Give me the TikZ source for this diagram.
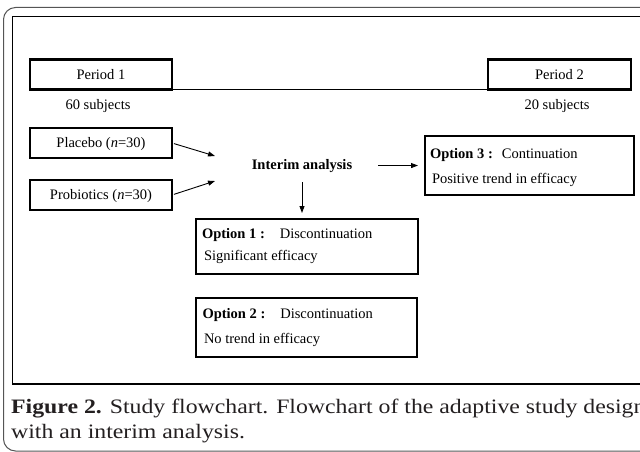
\documentclass[tikz,border=0pt]{standalone}
\usepackage{fontspec}
\setmainfont{Liberation Serif}
\newfontfamily\capfont[FakeStretch=1.16]{Liberation Serif}
\usetikzlibrary{arrows.meta}
\definecolor{captext}{HTML}{231F20}
\definecolor{framegray}{HTML}{555555}
\begin{document}
\begin{tikzpicture}[x=1pt,y=-1pt,
  font=\fontsize{14.5}{17}\selectfont,
  box/.style={draw, line width=2.6pt, inner sep=0pt, outer sep=0pt,
    minimum height=30pt, text height=9.5pt, text depth=0pt},
  optbox/.style={draw, line width=2.6pt, inner sep=0pt, outer sep=0pt},
  lbl/.style={inner sep=0pt, outer sep=0pt, anchor=base},
  arr/.style={line width=0.9pt, -{Triangle[length=7pt,width=5pt]}},
  capnode/.style={inner sep=0pt, anchor=base west, text=captext,
    font=\capfont\fontsize{20.5}{24}\selectfont}]
\useasboundingbox (0,0) rectangle (640,452);
\clip (0,0) rectangle (640,452);
% frames
\draw[framegray, line width=1pt, rounded corners=12pt] (3.5,7.5) rectangle (700,451);
\draw[line width=1.8pt] (12.5,16.5) rectangle (700,384);
% period boxes
\node[box, minimum width=142pt] (p1) at (101,74.75) {Period 1};
\node[box, minimum width=143pt] (p2) at (559.5,74.75) {Period 2};
\draw[line width=1pt] (p1.south east) -- (p2.south west);
\node[lbl] (s1) at (98,110) {60 subjects};
\node[lbl] (s2) at (557,110) {20 subjects};
% groups
\node[box, minimum width=142pt] (pl) at (101,143) {Placebo (\textit{n}=30)};
\node[box, minimum width=142pt] (pr) at (101,195) {Probiotics (\textit{n}=30)};
% interim
\node[lbl] (ia) at (302,169) {\bfseries Interim analysis};
\coordinate (ta) at (215,156);
\coordinate (tb) at (215,181);
\draw[arr, shorten <=2pt] (pl.east) -- (ta);
\draw[arr, shorten <=2pt] (pr.east) -- (tb);
% option boxes
\node[optbox, minimum width=222pt, minimum height=55pt] (o1) at (307,246.5) {};
\node[optbox, minimum width=221pt, minimum height=59pt] (o2) at (306.5,327.5) {};
\node[optbox, minimum width=209pt, minimum height=59pt] (o3) at (529.5,165.5) {};
\draw[arr, shorten <=10pt, shorten >=6pt] (ia.south) -- (ia.south |- o1.north);
\draw[arr, shorten <=26pt, shorten >=7pt] (ia.east) -- (ia.east -| o3.west);
% option texts
\node[lbl, anchor=base west] (o1a) at (202,238.5) {\textbf{Option 1 :}\hspace{15pt}Discontinuation};
\node[lbl, anchor=base west] (o1b) at (204,260) {Significant efficacy};
\node[lbl, anchor=base west] (o2a) at (202.5,318.5) {\textbf{Option 2 :}\hspace{15pt}Discontinuation};
\node[lbl, anchor=base west] (o2b) at (204,343) {No trend in efficacy};
\node[lbl, anchor=base west] (o3a) at (430,158.5) {\textbf{Option 3 :}\hspace{9pt}Continuation};
\node[lbl, anchor=base west] (o3b) at (432,183) {Positive trend in efficacy};
% caption
\node[capnode] (c1) at (11,413) {{\bfseries Figure 2.} Study flowchart. Flowchart of the adaptive study design};
\node[capnode] (c2) at (11,438) {with an interim analysis.};
\end{tikzpicture}
\end{document}
